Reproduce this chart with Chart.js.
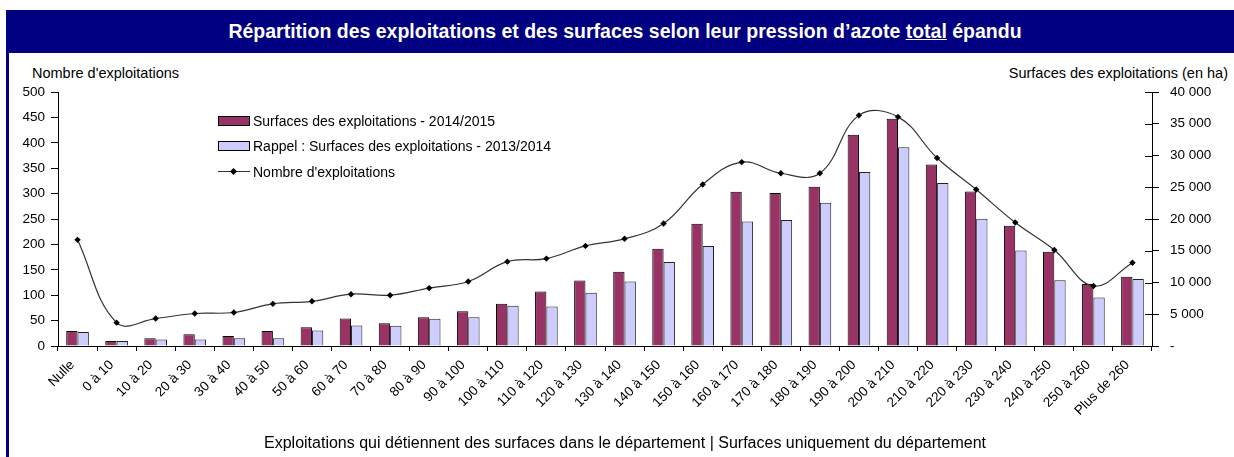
<!DOCTYPE html>
<html><head><meta charset="utf-8">
<script src="https://cdn.jsdelivr.net/npm/chart.js@4.4.1/dist/chart.umd.min.js"></script>
<style>
body{margin:0;background:#fff;width:1234px;height:457px;overflow:hidden;position:relative;font-family:'Liberation Sans',Arial,sans-serif;color:#000;}
#bar{position:absolute;left:6px;top:10px;width:1228px;height:43px;background:#000080;color:#fff;font-weight:bold;font-size:19.5px;text-align:center;line-height:43px;padding-left:10px;box-sizing:border-box;}
#lb{position:absolute;left:6px;top:10px;width:3px;height:447px;background:#000080;}
#wrap{position:absolute;left:9px;top:53px;width:1225px;height:404px;}
.at{position:absolute;top:64px;font-size:14.5px;line-height:18px;white-space:nowrap;}
#xt{position:absolute;left:325px;width:600px;top:433px;font-size:16px;line-height:20px;text-align:center;white-space:nowrap;display:flex;justify-content:center;}
#legend{position:absolute;left:218px;top:108px;font-size:14px;}
.li{height:25.5px;display:flex;align-items:center;white-space:nowrap;}
.sw{width:30px;height:8px;border:1px solid #000;margin-right:3px;}
.ln{width:32px;height:10px;margin-right:3px;position:relative;}
.ln:before{content:'';position:absolute;left:0;right:0;top:4.5px;height:1px;background:#333;}
.ln:after{content:'';position:absolute;left:13px;top:2px;width:5px;height:5px;background:#000;transform:rotate(45deg);}
</style></head>
<body>
<div id="lb"></div>
<div id="bar">Répartition des exploitations et des surfaces selon leur pression d’azote <u>total</u> épandu</div>
<div class="at" style="left:32px;">Nombre d'exploitations</div>
<div class="at" style="right:6px;">Surfaces des exploitations (en ha)</div>
<div id="wrap"><canvas id="c" width="1225" height="404"></canvas></div>
<div id="legend"></div>
<div id="xt"></div>
<script>
const categories = ['Nulle','0 à 10','10 à 20','20 à 30','30 à 40','40 à 50','50 à 60','60 à 70','70 à 80','80 à 90','90 à 100','100 à 110','110 à 120','120 à 130','130 à 140','140 à 150','150 à 160','160 à 170','170 à 180','180 à 190','190 à 200','200 à 210','210 à 220','220 à 230','230 à 240','240 à 250','250 à 260','Plus de 260'];
const surfaces2015 = [2370,790,1215,1850,1580,2370,2950,4320,3580,4510,5490,6640,8600,10300,11680,15320,19240,24300,24100,25090,33270,35800,28570,24350,18930,14860,9750,10910];
const surfaces2014 = [2210,790,1010,1010,1215,1215,2430,3220,3200,4300,4540,6320,6230,8380,10160,13230,15760,19600,19830,22560,27420,31300,25680,20030,15020,10340,7650,10550];
const nbExploitations = [209,46,54,64,66,83,88,102,100,114,127,166,172,197,211,241,318,362,340,340,454,451,370,308,243,189,118,164];
const leftTicks = [0,50,100,150,200,250,300,350,400,450,500];
const rightTicks = [0,5000,10000,15000,20000,25000,30000,35000,40000];
const seriesNames = ['Surfaces des exploitations - 2014/2015','Rappel : Surfaces des exploitations - 2013/2014',"Nombre d'exploitations"];
const xTitle = 'Exploitations qui détiennent des surfaces dans le département | Surfaces uniquement du département';

const FONT = "'Liberation Sans', Arial, sans-serif";
Chart.defaults.font.family = FONT;
Chart.defaults.color = '#000';

const innerTicks = {
  id:'innerTicks',
  afterDraw(chart){
    const s = chart.scales.y1, ctx = chart.ctx;
    ctx.save(); ctx.strokeStyle='#000'; ctx.lineWidth=1;
    rightTicks.forEach(v=>{
      const y = Math.round(s.getPixelForValue(v))+0.5;
      ctx.beginPath(); ctx.moveTo(s.left-7,y); ctx.lineTo(s.left,y); ctx.stroke();
    });
    ctx.restore();
  }
};

const chart = new Chart(document.getElementById('c'), {
  data:{
    labels: categories,
    datasets:[
      {type:'line', label:seriesNames[2], data:nbExploitations, yAxisID:'y', borderColor:'#333', borderWidth:1.2, tension:0.4,
       pointStyle:'rectRot', pointRadius:3.2, pointBackgroundColor:'#000', pointBorderColor:'#000', pointBorderWidth:0, order:0},
      {type:'bar', label:seriesNames[0], data:surfaces2015, yAxisID:'y1', backgroundColor:'#993366', borderColor:'#000', borderWidth:1,
       categoryPercentage:0.58, barPercentage:1, order:1},
      {type:'bar', label:seriesNames[1], data:surfaces2014, yAxisID:'y1', backgroundColor:'#CCCCFF', borderColor:'#222', borderWidth:1,
       categoryPercentage:0.58, barPercentage:1, order:1}
    ]
  },
  options:{
    responsive:false, animation:false, devicePixelRatio:1,
    layout:{padding:{top:39,left:0,right:0,bottom:0}},
    plugins:{legend:{display:false}, tooltip:{enabled:false}},
    scales:{
      x:{
        offset:true,
        grid:{display:true, offset:true, drawOnChartArea:false, drawTicks:true, tickLength:5, color:'#000'},
        border:{display:true,color:'#000'},
        ticks:{minRotation:45, maxRotation:45, autoSkip:false, font:{size:13.5}, padding:6, labelOffset:-5, color:'#000'},
        title:{display:false},
        afterFit(s){ s.height = 111; }
      },
      y:{
        position:'left', min:0, max:500,
        afterBuildTicks(s){ s.ticks = leftTicks.map(v=>({value:v})); },
        grid:{display:true, drawOnChartArea:false, drawTicks:true, tickLength:7, color:'#000'},
        border:{display:true,color:'#000'},
        ticks:{font:{size:13.5}, padding:6, color:'#000'},
        afterFit(s){ s.width = 49; }
      },
      y1:{
        position:'right', min:0, max:40000,
        afterBuildTicks(s){ s.ticks = rightTicks.map(v=>({value:v})); },
        grid:{display:true, drawOnChartArea:false, drawTicks:true, tickLength:7, color:'#000'},
        border:{display:true,color:'#000'},
        ticks:{font:{size:13.5}, padding:11, color:'#000',
          callback(v){ return v===0 ? '-' : String(v).replace(/\B(?=(\d{3})+(?!\d))/g,' '); }},
        afterFit(s){ s.width = 82; }
      }
    }
  },
  plugins:[innerTicks]
});

document.getElementById('xt').textContent = xTitle;

// HTML legend built from datasets
const lg = document.getElementById('legend');
[1,2,0].forEach(i=>{
  const ds = chart.data.datasets[i];
  const row = document.createElement('div'); row.className='li';
  const sw = document.createElement('div');
  if(ds.type==='bar'){ sw.className='sw'; sw.style.background=ds.backgroundColor; }
  else sw.className='ln';
  const t = document.createElement('span'); t.textContent = ds.label;
  row.appendChild(sw); row.appendChild(t); lg.appendChild(row);
});
</script>
</body></html>
